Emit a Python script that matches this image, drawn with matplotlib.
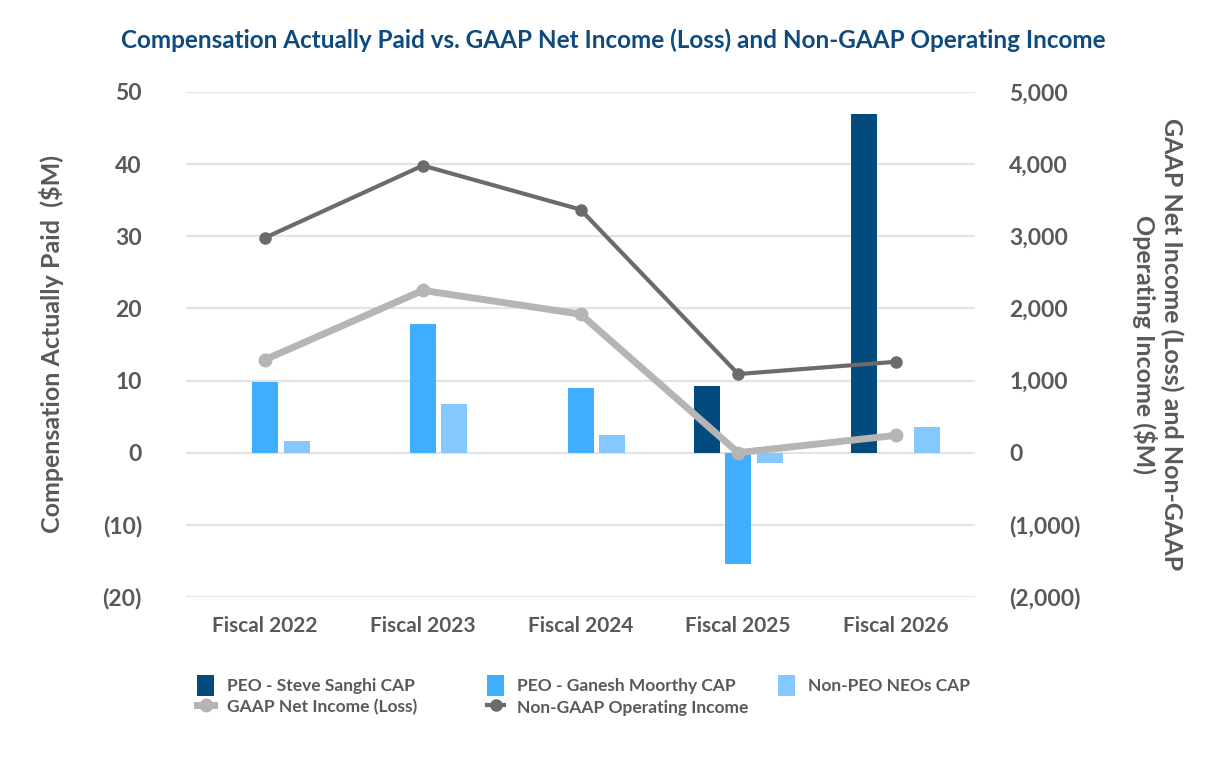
import numpy as np
import matplotlib.pyplot as plt

plt.rcParams['font.family'] = ['Lato', 'DejaVu Sans']

# Data
years = ["Fiscal 2022", "Fiscal 2023", "Fiscal 2024", "Fiscal 2025", "Fiscal 2026"]
steve_cap = [np.nan, np.nan, np.nan, 9.3, 47.0]
ganesh_cap = [9.8, 17.9, 9.0, -15.4, np.nan]
non_peo_cap = [1.6, 6.8, 2.4, -1.4, 3.5]
gaap_net_income = [1290, 2250, 1920, 0, 240]
non_gaap_op_income = [2980, 3980, 3370, 1090, 1260]

left_ticks = [-20, -10, 0, 10, 20, 30, 40, 50]
left_labels = ["(20)", "(10)", "0", "10", "20", "30", "40", "50"]
right_ticks = [-2000, -1000, 0, 1000, 2000, 3000, 4000, 5000]
right_labels = ["(2,000)", "(1,000)", "0", "1,000", "2,000", "3,000", "4,000", "5,000"]

c_steve = "#034A7D"
c_ganesh = "#3FAEFF"
c_nonpeo = "#85C8FF"
c_gaap = "#B5B5B5"
c_nongaap = "#6B6B6B"
txt = "#595959"

fig = plt.figure(figsize=(12.26, 7.6), dpi=100)
ax = fig.add_axes([0.152, 0.2145, 0.643, 0.6645])
ax2 = ax.twinx()

x = np.arange(len(years))
w = 0.165
step = 0.2
ax.bar(x - step, steve_cap, w, color=c_steve, label="PEO - Steve Sanghi CAP", zorder=2)
ax.bar(x, ganesh_cap, w, color=c_ganesh, label="PEO - Ganesh Moorthy CAP", zorder=2)
ax.bar(x + step, non_peo_cap, w, color=c_nonpeo, label="Non-PEO NEOs CAP", zorder=2)

l1, = ax2.plot(x, gaap_net_income, color=c_gaap, lw=5, marker="o", ms=9,
               label="GAAP Net Income (Loss)")
l2, = ax2.plot(x, non_gaap_op_income, color=c_nongaap, lw=3, marker="o", ms=8,
               label="Non-GAAP Operating Income")

ax.set_xlim(-0.5, 4.5)
ax.set_ylim(-20, 50)
ax2.set_ylim(-2000, 5000)
ax.set_yticks(left_ticks)
ax.set_yticklabels(left_labels)
ax2.set_yticks(right_ticks)
ax2.set_yticklabels(right_labels)
ax.set_xticks(x)
ax.set_xticklabels(years)

ax.grid(axis="y", color="#E3E3E3", lw=1.5, zorder=0)
ax.set_axisbelow(True)
for a in (ax, ax2):
    for s in a.spines.values():
        s.set_visible(False)
    a.tick_params(length=0, colors=txt)
    for lab in a.get_yticklabels():
        lab.set_fontsize(16.5)
        lab.set_fontweight("bold")
ax.tick_params(axis="y", pad=32)
ax2.tick_params(axis="y", pad=25)
ax.tick_params(axis="x", pad=14)
for lab in ax.get_xticklabels():
    lab.set_fontsize(15)
    lab.set_fontweight("bold")

ax.set_ylabel("Compensation Actually Paid  ($M)", fontsize=18, fontweight="bold",
              color=txt, labelpad=28)
ax2.set_ylabel("GAAP Net Income (Loss) and Non-GAAP\nOperating Income ($M)",
               fontsize=18, fontweight="bold", color=txt, rotation=270,
               labelpad=74, linespacing=1.15)

fig.suptitle("Compensation Actually Paid vs. GAAP Net Income (Loss) and Non-GAAP Operating Income",
             x=0.5, y=0.962, fontsize=17.5, fontweight="bold", color="#0E4A7E")

# legend: three columns placed like the original
bars = ax.containers
columns = [([bars[0], l1], 197), ([bars[1], l2], 487), ([bars[2]], 778)]
for hs, px in columns:
    leg = fig.legend(hs, [h.get_label() for h in hs], loc="upper left",
                     bbox_to_anchor=(px / 1226, 1 - 675 / 760), frameon=False,
                     fontsize=12.5, handlelength=1.0, handleheight=1.45,
                     handletextpad=0.7, labelspacing=0.05, borderaxespad=0,
                     borderpad=0)
    for t in leg.get_texts():
        t.set_color(txt)
        t.set_fontweight("bold")

fig.savefig("out.png", dpi=100)
